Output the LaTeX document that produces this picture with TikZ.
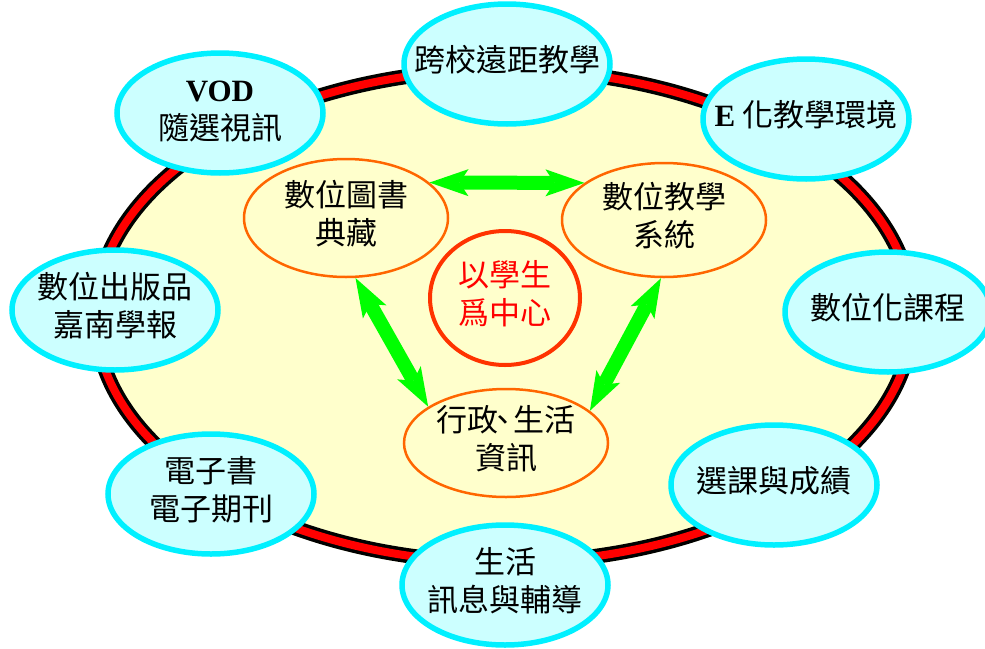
\documentclass[tikz,border=0pt]{standalone}
\usepackage{fontspec}
\setmainfont{Noto Sans CJK TC}
\newfontfamily\latinbf{Liberation Serif}
\usetikzlibrary{shapes.geometric,arrows.meta}
\definecolor{bandred}{HTML}{FF0000}
\definecolor{paleyellow}{HTML}{FFFFCC}
\definecolor{skyline}{HTML}{00F0FF}
\definecolor{skyfill}{HTML}{CCFFFF}
\definecolor{ringorange}{HTML}{FF6600}
\definecolor{hubred}{HTML}{FF3300}
\definecolor{linkgreen}{HTML}{00FF00}
\newcommand{\ovaltext}[1]{\makebox[0pt]{\begin{tabular}{@{}c@{}}#1\end{tabular}}}
\tikzset{
    outer/.style={ellipse,draw=skyline,fill=skyfill,line width=5.5pt,
        minimum width=206pt,minimum height=120pt,inner sep=0pt},
    inner/.style={ellipse,draw=ringorange,line width=2.5pt,
        minimum width=204pt,minimum height=116pt,inner sep=0pt},
    hub/.style={ellipse,draw=hubred,line width=4pt,text=bandred,
        minimum width=150pt,minimum height=134pt,inner sep=0pt},
    link/.style={linkgreen,line width=14pt,
        {Stealth[length=39pt,width=27pt,inset=9pt,line width=0pt]}-{Stealth[length=39pt,width=27pt,inset=9pt,line width=0pt]}}
}
\begin{document}
\begin{tikzpicture}[x=1pt,y=-1pt,font=\fontsize{31}{38}\selectfont]
        \useasboundingbox (0,0) rectangle (985,648);
        %% campus ring
        \fill[paleyellow] (504,316) ellipse (416 and 254);
        \draw[line width=15pt] (504,316) ellipse (408.5 and 246.5);
        \draw[line width=8pt,bandred] (504,316) ellipse (408.5 and 246.5);
        %% core systems
        \node[inner,minimum height=118pt] (lib) at (346,218) {\ovaltext{數位圖書\\典藏}};
        \node[inner,minimum height=114pt] (sys) at (664,220) {\ovaltext{數位教學\\系統}};
        \node[inner,minimum height=108pt] (adm) at (506,443) {\ovaltext{行政\kern-0.35em、\kern-0.15em生活\\資訊}};
        \node[hub] (hub) at (505,298) {\ovaltext{以學生\\爲中心}};
        \draw[link] (lib.23) -- (sys.155);
        \draw[link] (lib.-81) -- (adm.155);
        \draw[link] (sys.-93) -- (adm.21);
        %% services on the ring
        \foreach \px/\py/\nm/\txt in {
            507/64/dist/{跨校遠距教學},
            220/113/vod/{{\latinbf\bfseries VOD}\\隨選視訊},
            806/119/eenv/{{\latinbf\bfseries E} 化教學環境},
            115/310/pub/{數位出版品\\嘉南學報},
            888/312/course/{數位化課程},
            211/494/ebook/{電子書\\電子期刊},
            505/585/life/{生活\\訊息與輔導},
            774/485/grade/{選課與成績}}
            \node[outer] (\nm) at (\px,\py) {\ovaltext{\txt}};
\end{tikzpicture}
\end{document}
